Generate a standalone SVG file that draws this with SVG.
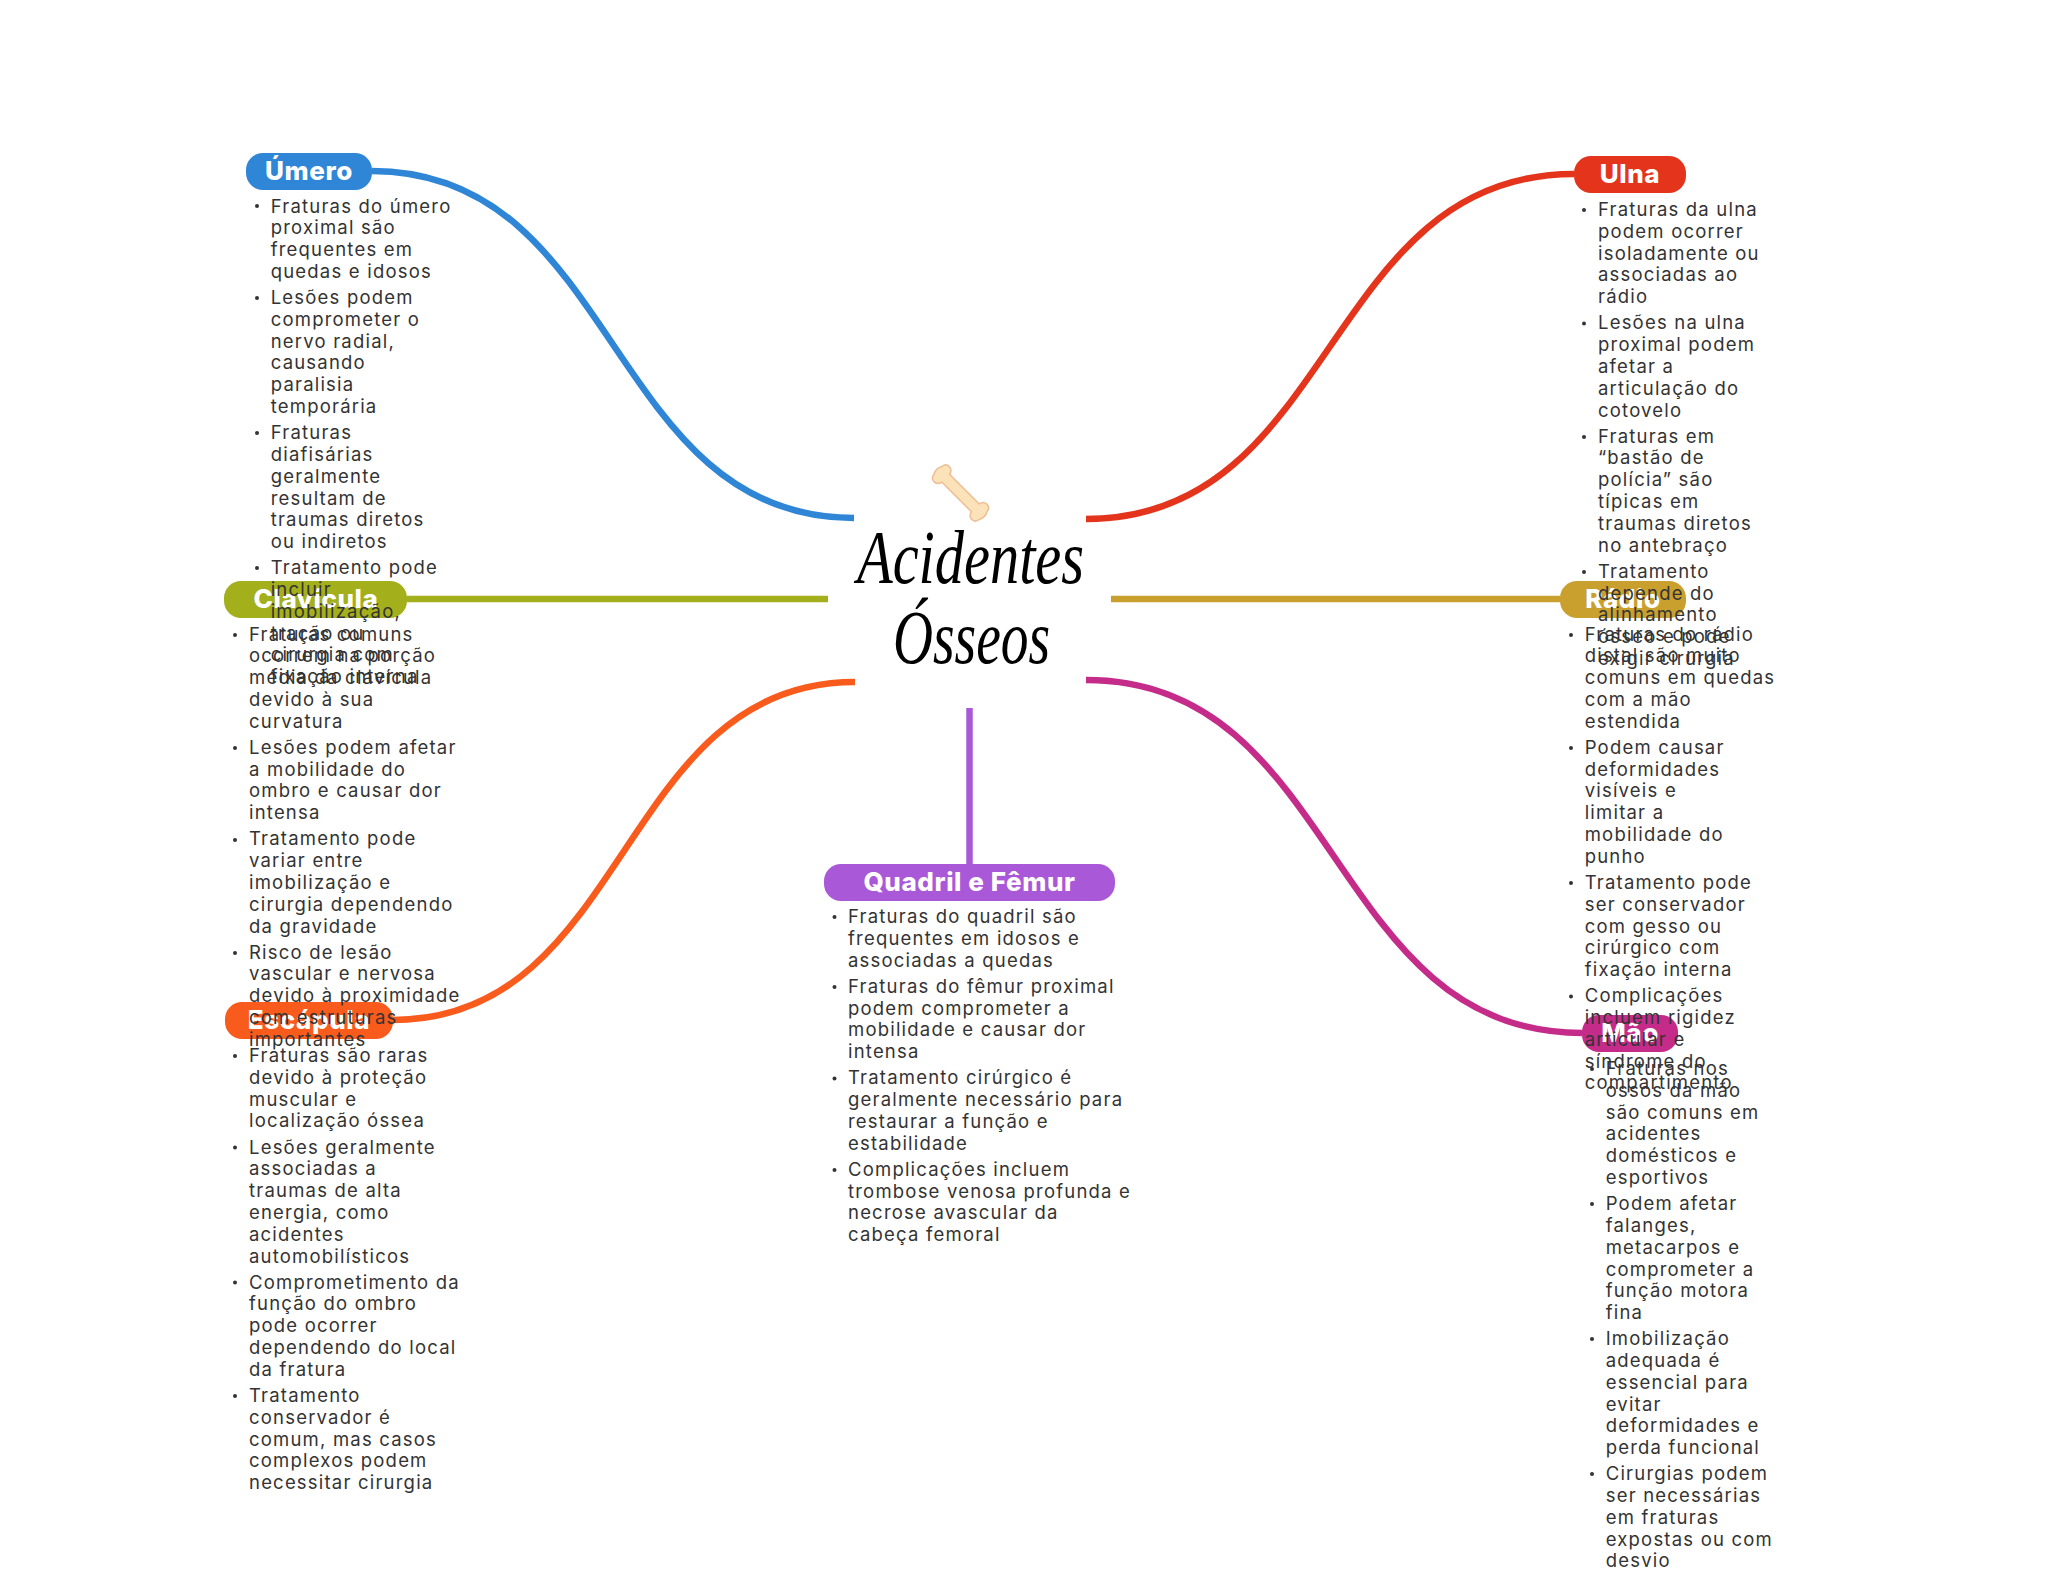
<svg xmlns="http://www.w3.org/2000/svg" width="2048" height="1569" viewBox="0 0 2048 1569">
<style>
.c{fill:none;stroke-width:6.5}
.t{font-family:"Inter","Liberation Sans",sans-serif;font-size:18.5px;letter-spacing:1.2px;fill:#333}
.l{font-family:"Inter","Liberation Sans",sans-serif;font-size:26px;font-weight:800;letter-spacing:.6px;fill:#fff;text-anchor:middle}
.h{font-family:"Liberation Serif",serif;font-style:italic;font-size:76px;fill:#000}
.b{fill:#333}
</style>
<rect width="2048" height="1569" fill="#fff"/>
<g id="connectors">
<path class="c" stroke="#2F86D6" d="M372 171C620 171 606 518 854 518"/>
<path class="c" stroke="#E4341C" d="M1574 174C1323 174 1337 519 1086 519"/>
<path class="c" stroke="#A3AF1B" d="M407 599H828"/>
<path class="c" stroke="#C9A02E" d="M1111 599H1560"/>
<path class="c" stroke="#F95B1C" d="M393 1020C630 1020 618 682 855 682"/>
<path class="c" stroke="#C52C8A" d="M1582 1033C1327 1033 1341 680 1086 680"/>
<path class="c" stroke="#A959D8" d="M969.5 708V864"/>
</g>
<g id="node-escapula">
<rect x="225" y="1002" width="168" height="37" rx="17" fill="#F95B1C"/>
<text class="l" x="309" y="1029">Escápula</text>
<g class="b"><circle cx="235" cy="1056" r="2"/><circle cx="235" cy="1147.5" r="2"/><circle cx="235" cy="1282.5" r="2"/><circle cx="235" cy="1396" r="2"/></g>
<text class="t" y="1062"><tspan x="249">Fraturas são raras</tspan><tspan x="249" dy="21.8">devido à proteção</tspan><tspan x="249" dy="21.8">muscular e</tspan><tspan x="249" dy="21.8">localização óssea</tspan><tspan x="249" dy="26.1">Lesões geralmente</tspan><tspan x="249" dy="21.8">associadas a</tspan><tspan x="249" dy="21.8">traumas de alta</tspan><tspan x="249" dy="21.8">energia, como</tspan><tspan x="249" dy="21.8">acidentes</tspan><tspan x="249" dy="21.8">automobilísticos</tspan><tspan x="249" dy="26.1">Comprometimento da</tspan><tspan x="249" dy="21.8">função do ombro</tspan><tspan x="249" dy="21.8">pode ocorrer</tspan><tspan x="249" dy="21.8">dependendo do local</tspan><tspan x="249" dy="21.8">da fratura</tspan><tspan x="249" dy="26.1">Tratamento</tspan><tspan x="249" dy="21.8">conservador é</tspan><tspan x="249" dy="21.8">comum, mas casos</tspan><tspan x="249" dy="21.8">complexos podem</tspan><tspan x="249" dy="21.8">necessitar cirurgia</tspan></text>
</g>
<g id="node-clavicula">
<rect x="224" y="581" width="183" height="37" rx="17" fill="#A3AF1B"/>
<text class="l" x="316" y="608">Clavícula</text>
<g class="b"><circle cx="235" cy="635" r="2"/><circle cx="235" cy="748" r="2"/><circle cx="235" cy="840" r="2"/><circle cx="235" cy="953" r="2"/></g>
<text class="t" y="640.5"><tspan x="249">Fraturas comuns</tspan><tspan x="249" dy="21.8">ocorrem na porção</tspan><tspan x="249" dy="21.8">média da clavícula</tspan><tspan x="249" dy="21.8">devido à sua</tspan><tspan x="249" dy="21.8">curvatura</tspan><tspan x="249" dy="26.1">Lesões podem afetar</tspan><tspan x="249" dy="21.8">a mobilidade do</tspan><tspan x="249" dy="21.8">ombro e causar dor</tspan><tspan x="249" dy="21.8">intensa</tspan><tspan x="249" dy="26.1">Tratamento pode</tspan><tspan x="249" dy="21.8">variar entre</tspan><tspan x="249" dy="21.8">imobilização e</tspan><tspan x="249" dy="21.8">cirurgia dependendo</tspan><tspan x="249" dy="21.8">da gravidade</tspan><tspan x="249" dy="26.1">Risco de lesão</tspan><tspan x="249" dy="21.8">vascular e nervosa</tspan><tspan x="249" dy="21.8">devido à proximidade</tspan><tspan x="249" dy="21.8">com estruturas</tspan><tspan x="249" dy="21.8">importantes</tspan></text>
</g>
<g id="node-umero">
<rect x="246" y="153" width="126" height="37" rx="17" fill="#2F86D6"/>
<text class="l" x="309" y="180">Úmero</text>
<g class="b"><circle cx="257" cy="206" r="2"/><circle cx="257" cy="298" r="2"/><circle cx="257" cy="433" r="2"/><circle cx="257" cy="568" r="2"/></g>
<text class="t" y="212.5"><tspan x="270.7">Fraturas do úmero</tspan><tspan x="270.7" dy="21.8">proximal são</tspan><tspan x="270.7" dy="21.8">frequentes em</tspan><tspan x="270.7" dy="21.8">quedas e idosos</tspan><tspan x="270.7" dy="26.1">Lesões podem</tspan><tspan x="270.7" dy="21.8">comprometer o</tspan><tspan x="270.7" dy="21.8">nervo radial,</tspan><tspan x="270.7" dy="21.8">causando</tspan><tspan x="270.7" dy="21.8">paralisia</tspan><tspan x="270.7" dy="21.8">temporária</tspan><tspan x="270.7" dy="26.1">Fraturas</tspan><tspan x="270.7" dy="21.8">diafisárias</tspan><tspan x="270.7" dy="21.8">geralmente</tspan><tspan x="270.7" dy="21.8">resultam de</tspan><tspan x="270.7" dy="21.8">traumas diretos</tspan><tspan x="270.7" dy="21.8">ou indiretos</tspan><tspan x="270.7" dy="26.1">Tratamento pode</tspan><tspan x="270.7" dy="21.8">incluir</tspan><tspan x="270.7" dy="21.8">imobilização,</tspan><tspan x="270.7" dy="21.8">tração ou</tspan><tspan x="270.7" dy="21.8">cirurgia com</tspan><tspan x="270.7" dy="21.8">fixação interna</tspan></text>
</g>
<g id="node-mao">
<rect x="1582" y="1015" width="96" height="37" rx="17" fill="#C52C8A"/>
<text class="l" x="1630" y="1042">Mão</text>
<g class="b"><circle cx="1592" cy="1069" r="2"/><circle cx="1592" cy="1204" r="2"/><circle cx="1592" cy="1339" r="2"/><circle cx="1592" cy="1474" r="2"/></g>
<text class="t" y="1075"><tspan x="1605.7">Fraturas nos</tspan><tspan x="1605.7" dy="21.8">ossos da mão</tspan><tspan x="1605.7" dy="21.8">são comuns em</tspan><tspan x="1605.7" dy="21.8">acidentes</tspan><tspan x="1605.7" dy="21.8">domésticos e</tspan><tspan x="1605.7" dy="21.8">esportivos</tspan><tspan x="1605.7" dy="26.1">Podem afetar</tspan><tspan x="1605.7" dy="21.8">falanges,</tspan><tspan x="1605.7" dy="21.8">metacarpos e</tspan><tspan x="1605.7" dy="21.8">comprometer a</tspan><tspan x="1605.7" dy="21.8">função motora</tspan><tspan x="1605.7" dy="21.8">fina</tspan><tspan x="1605.7" dy="26.1">Imobilização</tspan><tspan x="1605.7" dy="21.8">adequada é</tspan><tspan x="1605.7" dy="21.8">essencial para</tspan><tspan x="1605.7" dy="21.8">evitar</tspan><tspan x="1605.7" dy="21.8">deformidades e</tspan><tspan x="1605.7" dy="21.8">perda funcional</tspan><tspan x="1605.7" dy="26.1">Cirurgias podem</tspan><tspan x="1605.7" dy="21.8">ser necessárias</tspan><tspan x="1605.7" dy="21.8">em fraturas</tspan><tspan x="1605.7" dy="21.8">expostas ou com</tspan><tspan x="1605.7" dy="21.8">desvio</tspan></text>
</g>
<g id="node-radio">
<rect x="1560" y="581" width="126" height="37" rx="17" fill="#C9A02E"/>
<text class="l" x="1623" y="608">Rádio</text>
<g class="b"><circle cx="1571" cy="635" r="2"/><circle cx="1571" cy="748" r="2"/><circle cx="1571" cy="883" r="2"/><circle cx="1571" cy="996.5" r="2"/></g>
<text class="t" y="640.5"><tspan x="1584.7">Fraturas do rádio</tspan><tspan x="1584.7" dy="21.8">distal são muito</tspan><tspan x="1584.7" dy="21.8">comuns em quedas</tspan><tspan x="1584.7" dy="21.8">com a mão</tspan><tspan x="1584.7" dy="21.8">estendida</tspan><tspan x="1584.7" dy="26.1">Podem causar</tspan><tspan x="1584.7" dy="21.8">deformidades</tspan><tspan x="1584.7" dy="21.8">visíveis e</tspan><tspan x="1584.7" dy="21.8">limitar a</tspan><tspan x="1584.7" dy="21.8">mobilidade do</tspan><tspan x="1584.7" dy="21.8">punho</tspan><tspan x="1584.7" dy="26.1">Tratamento pode</tspan><tspan x="1584.7" dy="21.8">ser conservador</tspan><tspan x="1584.7" dy="21.8">com gesso ou</tspan><tspan x="1584.7" dy="21.8">cirúrgico com</tspan><tspan x="1584.7" dy="21.8">fixação interna</tspan><tspan x="1584.7" dy="26.1">Complicações</tspan><tspan x="1584.7" dy="21.8">incluem rigidez</tspan><tspan x="1584.7" dy="21.8">articular e</tspan><tspan x="1584.7" dy="21.8">síndrome do</tspan><tspan x="1584.7" dy="21.8">compartimento</tspan></text>
</g>
<g id="node-ulna">
<rect x="1574" y="156" width="112" height="37" rx="17" fill="#E4341C"/>
<text class="l" x="1630" y="183">Ulna</text>
<g class="b"><circle cx="1584" cy="210" r="2"/><circle cx="1584" cy="323.5" r="2"/><circle cx="1584" cy="437" r="2"/><circle cx="1584" cy="572" r="2"/></g>
<text class="t" y="216"><tspan x="1598">Fraturas da ulna</tspan><tspan x="1598" dy="21.8">podem ocorrer</tspan><tspan x="1598" dy="21.8">isoladamente ou</tspan><tspan x="1598" dy="21.8">associadas ao</tspan><tspan x="1598" dy="21.8">rádio</tspan><tspan x="1598" dy="26.1">Lesões na ulna</tspan><tspan x="1598" dy="21.8">proximal podem</tspan><tspan x="1598" dy="21.8">afetar a</tspan><tspan x="1598" dy="21.8">articulação do</tspan><tspan x="1598" dy="21.8">cotovelo</tspan><tspan x="1598" dy="26.1">Fraturas em</tspan><tspan x="1598" dy="21.8">“bastão de</tspan><tspan x="1598" dy="21.8">polícia” são</tspan><tspan x="1598" dy="21.8">típicas em</tspan><tspan x="1598" dy="21.8">traumas diretos</tspan><tspan x="1598" dy="21.8">no antebraço</tspan><tspan x="1598" dy="26.1">Tratamento</tspan><tspan x="1598" dy="21.8">depende do</tspan><tspan x="1598" dy="21.8">alinhamento</tspan><tspan x="1598" dy="21.8">ósseo e pode</tspan><tspan x="1598" dy="21.8">exigir cirurgia</tspan></text>
</g>
<g id="node-quadril">
<rect x="824" y="864" width="291" height="37" rx="17" fill="#A959D8"/>
<text class="l" x="969.5" y="891">Quadril e Fêmur</text>
<g class="b"><circle cx="834.5" cy="917" r="2"/><circle cx="834.5" cy="987" r="2"/><circle cx="834.5" cy="1078.5" r="2"/><circle cx="834.5" cy="1170" r="2"/></g>
<text class="t" y="923"><tspan x="848">Fraturas do quadril são</tspan><tspan x="848" dy="21.8">frequentes em idosos e</tspan><tspan x="848" dy="21.8">associadas a quedas</tspan><tspan x="848" dy="26.1">Fraturas do fêmur proximal</tspan><tspan x="848" dy="21.8">podem comprometer a</tspan><tspan x="848" dy="21.8">mobilidade e causar dor</tspan><tspan x="848" dy="21.8">intensa</tspan><tspan x="848" dy="26.1">Tratamento cirúrgico é</tspan><tspan x="848" dy="21.8">geralmente necessário para</tspan><tspan x="848" dy="21.8">restaurar a função e</tspan><tspan x="848" dy="21.8">estabilidade</tspan><tspan x="848" dy="26.1">Complicações incluem</tspan><tspan x="848" dy="21.8">trombose venosa profunda e</tspan><tspan x="848" dy="21.8">necrose avascular da</tspan><tspan x="848" dy="21.8">cabeça femoral</tspan></text>
</g>
<g id="node-center">
<g transform="translate(960.5 493) rotate(45)">
<path d="M-21 -5.5H21C22 -12 31 -13 32 -5.5C34 -2 34 2 32 5.5C31 13 22 12 21 5.5H-21C-22 12 -31 13 -32 5.5C-34 2 -34 -2 -32 -5.5C-31 -13 -22 -12 -21 -5.5Z" fill="#FBE2B8" stroke="#EDBE96" stroke-width="1.5"/>
</g>
<text class="h" x="857" y="583" textLength="227" lengthAdjust="spacingAndGlyphs">Acidentes</text>
<text class="h" x="893" y="663" textLength="157" lengthAdjust="spacingAndGlyphs">Ósseos</text>
</g>
</svg>
